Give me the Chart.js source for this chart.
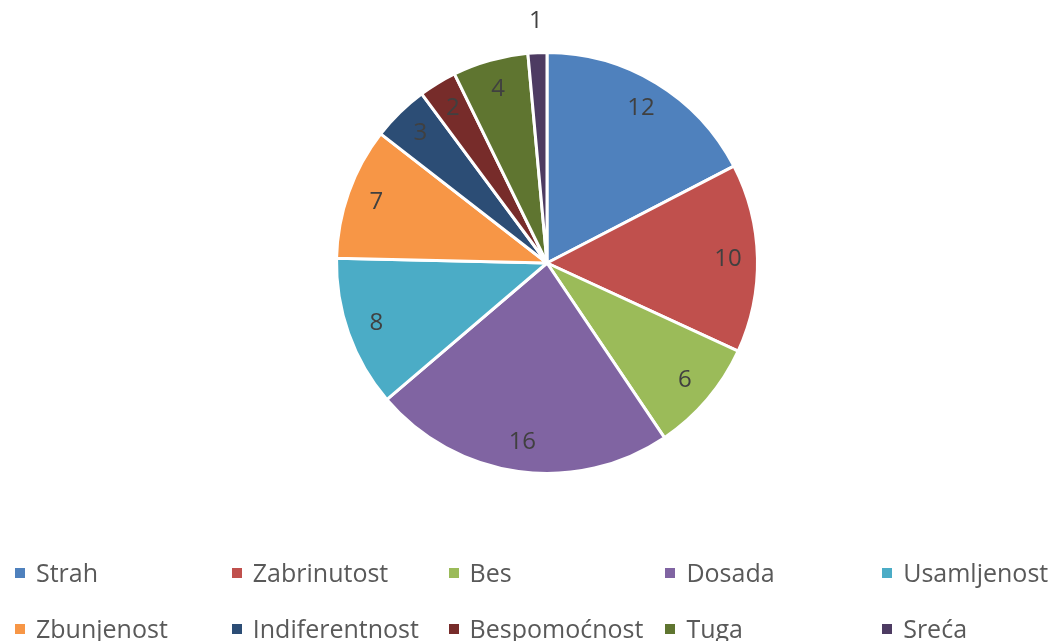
<!DOCTYPE html>
<html>
<head>
<meta charset="utf-8">
<script src="https://cdn.jsdelivr.net/npm/chart.js@4"></script>
<style>
  html, body { margin: 0; padding: 0; background: #fff; }
  #wrap { position: relative; width: 1062px; height: 641px; overflow: hidden; }
  #legend { position: absolute; left: 0; top: 0; width: 1062px; height: 641px; font-family: "Open Sans", sans-serif; font-size: 25px; color: #595959; }
  .item { position: absolute; white-space: nowrap; line-height: 30px; }
  .box { display: inline-block; width: 10px; height: 10px; margin-right: 11px; vertical-align: middle; position: relative; top: -2px; }
</style>
</head>
<body>
<div id="wrap">
  <canvas id="pie" width="1062" height="641"></canvas>
  <div id="legend"></div>
</div>
<script>
const labels = ['Strah', 'Zabrinutost', 'Bes', 'Dosada', 'Usamljenost', 'Zbunjenost', 'Indiferentnost', 'Bespomoćnost', 'Tuga', 'Sreća'];
const counts = [12, 10, 6, 16, 8, 7, 3, 2, 4, 1];
const colors = ['#4F81BD', '#C0504D', '#9BBB59', '#8064A2', '#4BACC6', '#F79646', '#2C4D75', '#772C2A', '#5F7530', '#4D3B62'];

// numbers on the slices, small ones go outside
const sliceLabels = {
  id: 'sliceLabels',
  afterDatasetsDraw(chart) {
    const ctx = chart.ctx;
    const meta = chart.getDatasetMeta(0);
    ctx.save();
    ctx.font = '24px "Open Sans", sans-serif';
    ctx.fillStyle = '#404040';
    ctx.textAlign = 'center';
    ctx.textBaseline = 'middle';
    meta.data.forEach((arc, i) => {
      const mid = (arc.startAngle + arc.endAngle) / 2;
      const span = arc.endAngle - arc.startAngle;
      const r = span < 0.15 ? arc.outerRadius * 1.15 : arc.outerRadius * 0.86;
      ctx.fillText(String(counts[i]), arc.x + Math.cos(mid) * r, arc.y + Math.sin(mid) * r);
    });
    ctx.restore();
  }
};

new Chart(document.getElementById('pie'), {
  type: 'pie',
  data: {
    labels,
    datasets: [{
      data: counts,
      backgroundColor: colors,
      borderColor: '#ffffff',
      borderWidth: 3
    }]
  },
  options: {
    responsive: false,
    animation: false,
    layout: { padding: { top: 51, bottom: 166, left: 335, right: 303 } },
    plugins: {
      legend: { display: false },
      tooltip: { enabled: false }
    }
  },
  plugins: [sliceLabels]
});

// legend: 5 columns, 2 rows
const legend = document.getElementById('legend');
labels.forEach((name, i) => {
  const col = i % 5, row = Math.floor(i / 5);
  const el = document.createElement('div');
  el.className = 'item';
  el.style.left = (15 + col * 216.8) + 'px';
  el.style.top = (557 + row * 56) + 'px';
  el.innerHTML = '<span class="box" style="background:' + colors[i] + '"></span>' + name;
  legend.appendChild(el);
});
</script>
</body>
</html>
